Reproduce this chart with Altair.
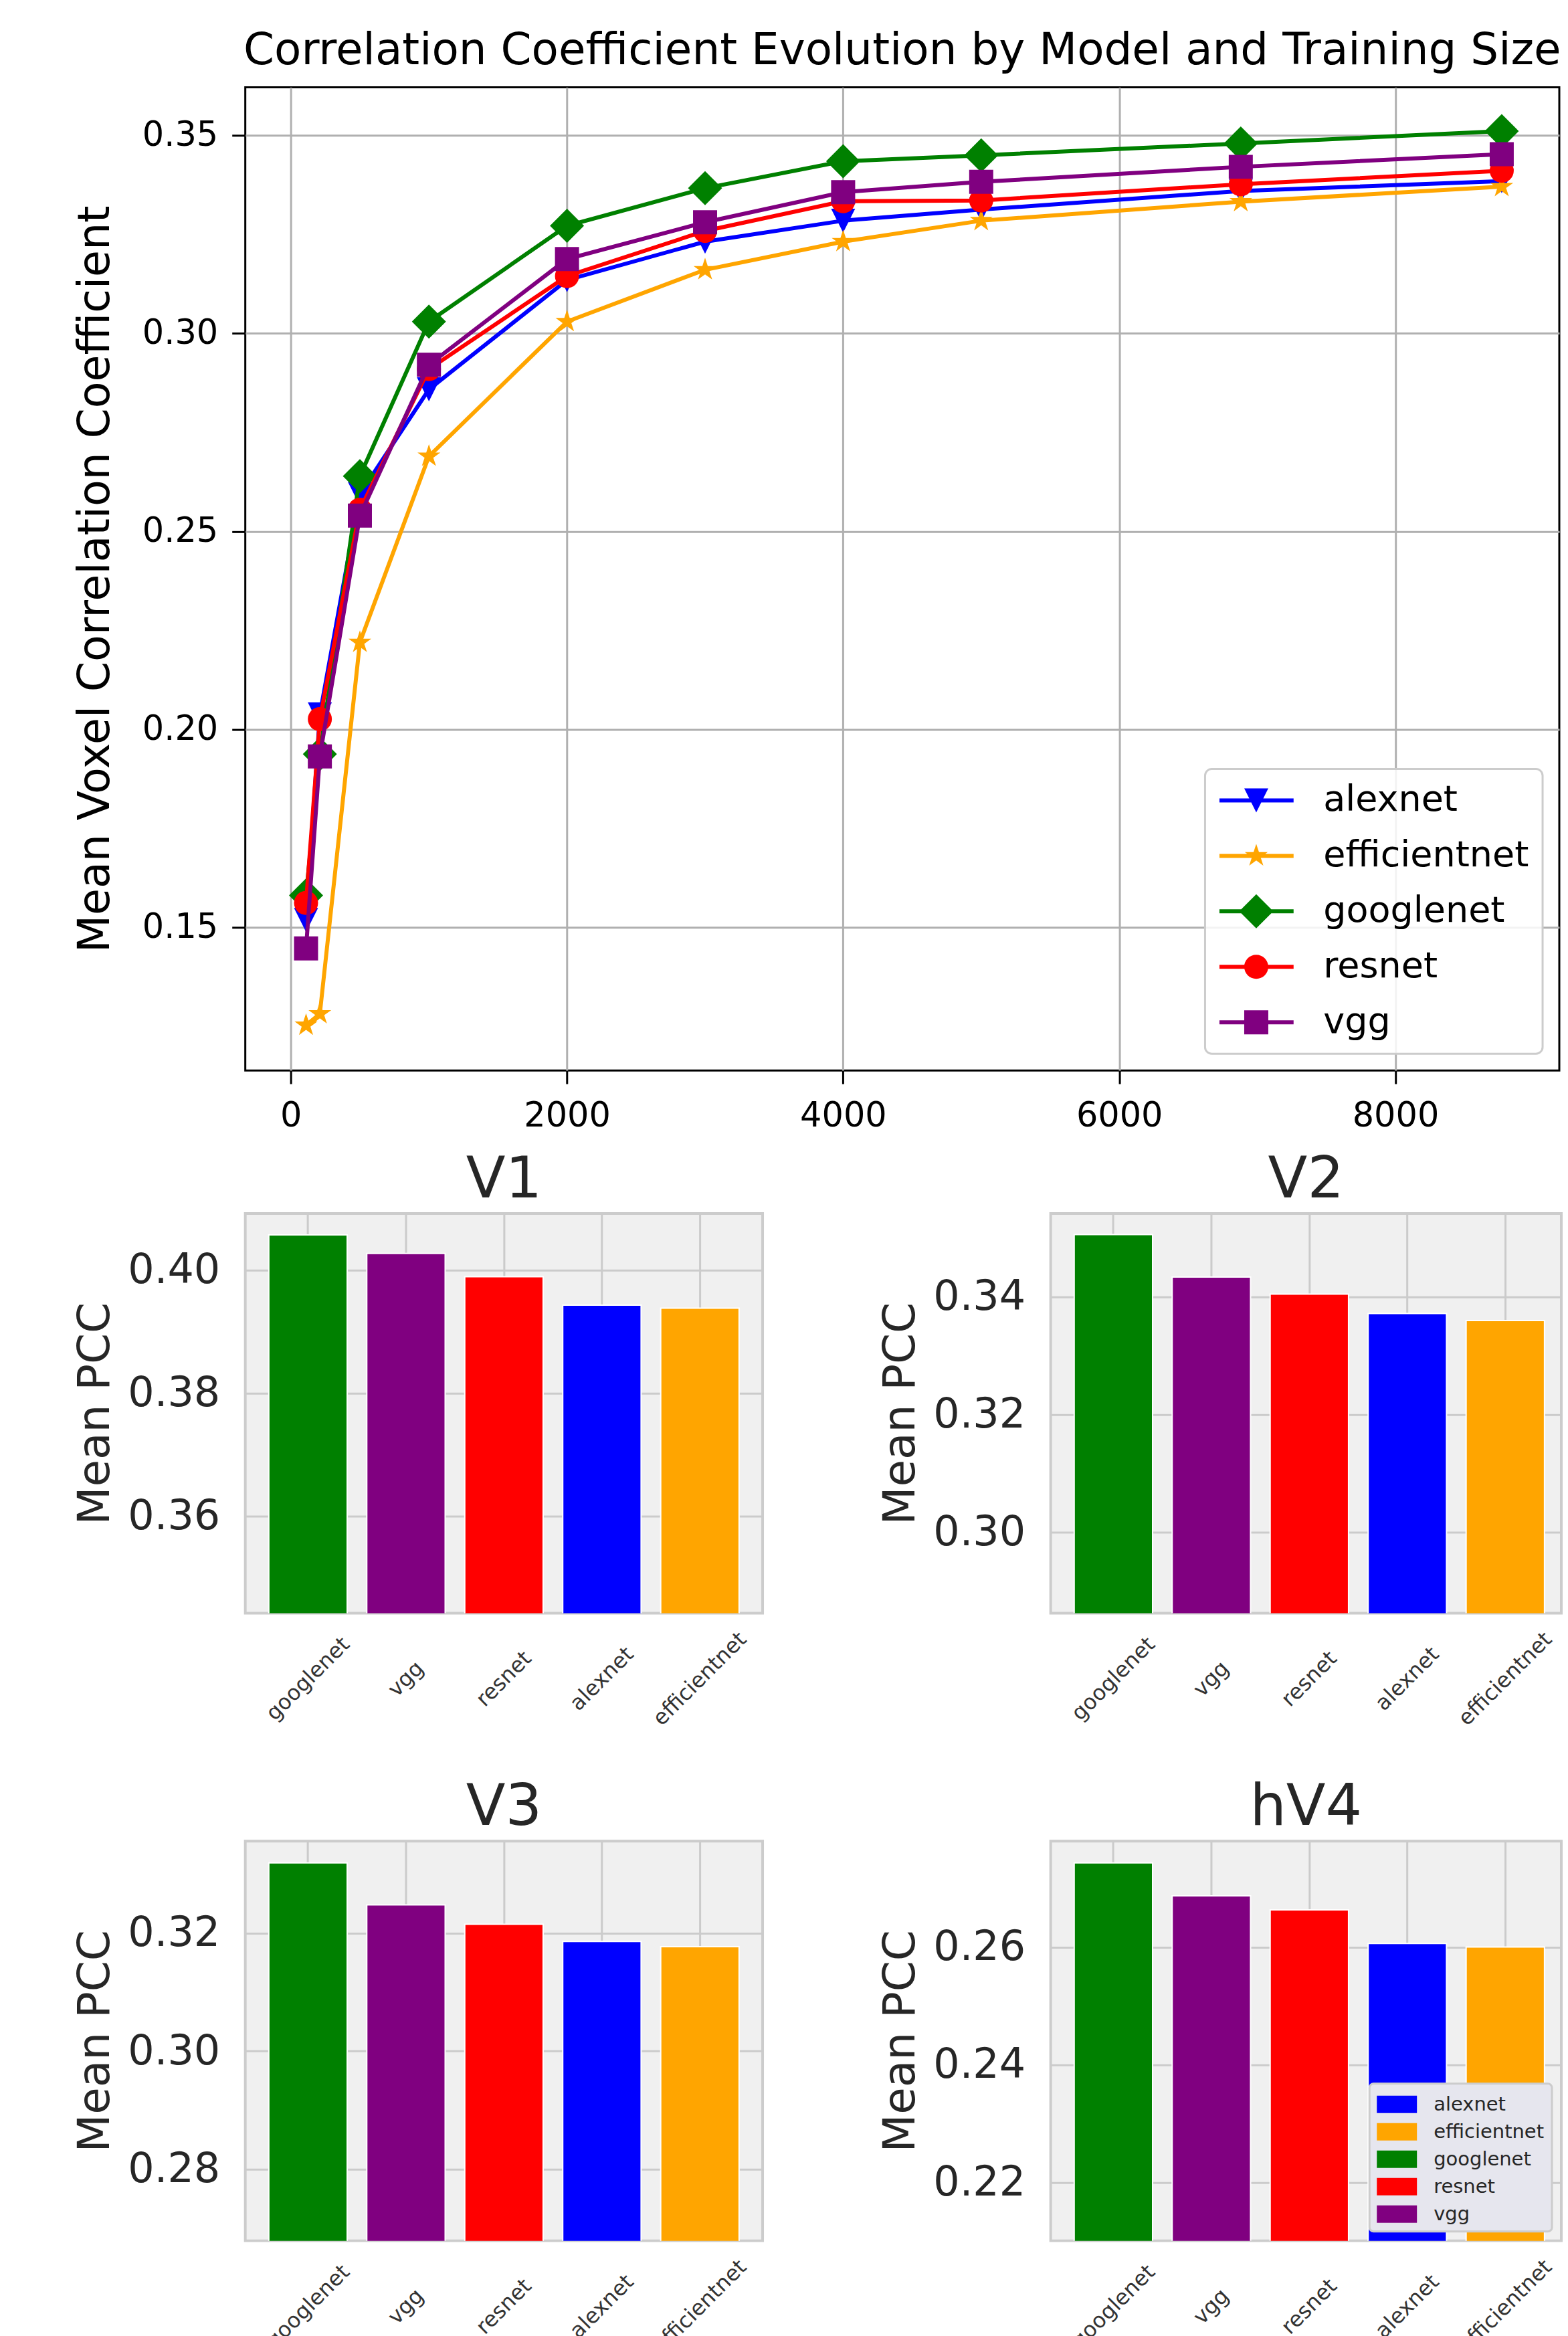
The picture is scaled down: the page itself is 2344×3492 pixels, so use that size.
import altair as alt
import pandas as pd
import re

# ---------------- data ----------------
models = ["alexnet", "efficientnet", "googlenet", "resnet", "vgg"]
colors = ["#0000ff", "#ffa500", "#008000", "#ff0000", "#800080"]

train_sizes = [110, 210, 500, 1000, 2000, 3000, 4000, 5000, 6880, 8770]
alexnet_pcc = [0.1519, 0.2038, 0.2595, 0.2859, 0.3135, 0.3232, 0.3285, 0.3313, 0.3360, 0.3385]
efficientnet_pcc = [0.1253, 0.1282, 0.2220, 0.2690, 0.3030, 0.3161, 0.3232, 0.3285, 0.3333, 0.3371]
googlenet_pcc = [0.1581, 0.1938, 0.2640, 0.3030, 0.3272, 0.3367, 0.3435, 0.3450, 0.3480, 0.3511]
resnet_pcc = [0.1562, 0.2026, 0.2555, 0.2910, 0.3145, 0.3259, 0.3334, 0.3336, 0.3377, 0.3411]
vgg_pcc = [0.1447, 0.1932, 0.2540, 0.2921, 0.3188, 0.3281, 0.3357, 0.3383, 0.3421, 0.3453]

x_ticks = [0, 2000, 4000, 6000, 8000]
y_ticks = [0.15, 0.20, 0.25, 0.30, 0.35]

bar_order = ["googlenet", "vgg", "resnet", "alexnet", "efficientnet"]
regions = ["V1", "V2", "V3", "hV4"]
v1_pcc = [0.4057, 0.4027, 0.3989, 0.3943, 0.3938]
v2_pcc = [0.3506, 0.3434, 0.3405, 0.3372, 0.3360]
v3_pcc = [0.3319, 0.3248, 0.3215, 0.3186, 0.3177]
hv4_pcc = [0.2743, 0.2687, 0.2663, 0.2606, 0.2600]
v1_ticks = [0.36, 0.38, 0.40]
v2_ticks = [0.30, 0.32, 0.34]
v3_ticks = [0.28, 0.30, 0.32]
hv4_ticks = [0.22, 0.24, 0.26]
v1_dom = [0.3442, 0.4092]
v2_dom = [0.2863, 0.3542]
v3_dom = [0.2679, 0.3356]
hv4_dom = [0.2101, 0.2780]

FONT = "DejaVu Sans"

# ---------------- marker shapes (unit: diamond half-diagonal) ----------------
marker_paths = {
    "alexnet": "M-0.706,-0.706L0.706,-0.706L0,0.706Z",
    "efficientnet": ("M0,-0.706L0.1587,-0.2184L0.6715,-0.2182L0.2568,0.0834L0.415,0.5712"
                     "L0,0.27L-0.415,0.5712L-0.2568,0.0834L-0.6715,-0.2182L-0.1587,-0.2184Z"),
    "googlenet": "M0,-1L1,0L0,1L-1,0Z",
    "resnet": "M0.706,0A0.706,0.706,0,1,1,-0.706,0A0.706,0.706,0,1,1,0.706,0Z",
    "vgg": "M-0.706,-0.706L0.706,-0.706L0.706,0.706L-0.706,0.706Z",
}


def shift_path(p, dx):
    # shift every x coordinate of a simple M/L/A path by dx
    out = []
    tokens = re.findall(r"[MLAZ]|-?\d*\.?\d+", p)
    state = {"cmd": None, "nums": []}

    def flush():
        cmd, nums = state["cmd"], state["nums"]
        if cmd in ("M", "L"):
            for i in range(0, len(nums), 2):
                out.append(f"{cmd}{nums[i] + dx:.4f},{nums[i + 1]:.4f}")
        elif cmd == "A":
            for i in range(0, len(nums), 7):
                a = nums[i:i + 7]
                out.append(f"A{a[0]},{a[1]},{int(a[2])},{int(a[3])},{int(a[4])},"
                           f"{a[5] + dx:.4f},{a[6]:.4f}")

    for t in tokens:
        if t in ("M", "L", "A", "Z"):
            flush()
            state["nums"] = []
            state["cmd"] = t
            if t == "Z":
                out.append("Z")
                state["cmd"] = None
        else:
            state["nums"].append(float(t))
    flush()
    return "".join(out)


LEG_DX = 1.16
line_path = "M-1,-0.118L3.35,-0.118L3.35,0.118L-1,0.118Z"
legend_paths = [line_path + shift_path(marker_paths[m], LEG_DX) for m in models]

series = {
    "alexnet": alexnet_pcc,
    "efficientnet": efficientnet_pcc,
    "googlenet": googlenet_pcc,
    "resnet": resnet_pcc,
    "vgg": vgg_pcc,
}
rows = []
for m in models:
    for s, v in zip(train_sizes, series[m]):
        rows.append({"model": m, "size": s, "pcc": v})
line_df = pd.DataFrame(rows)

# ---------------- top chart ----------------
X = alt.X("size:Q",
          scale=alt.Scale(domain=[-330, 9187], nice=False, zero=False),
          axis=alt.Axis(values=x_ticks, format="d", title=None, grid=True,
                        gridColor="#b0b0b0", gridWidth=3, domain=False,
                        ticks=True, tickSize=20, tickWidth=3, tickColor="#000000",
                        labelFontSize=51, labelColor="#000000", labelFont=FONT,
                        labelPadding=23, labelFlush=False))
Y = alt.Y("pcc:Q",
          scale=alt.Scale(domain=[0.1139, 0.3622], nice=False, zero=False),
          axis=alt.Axis(values=y_ticks, format=".2f", title="Mean Voxel Correlation Coefficient",
                        grid=True, gridColor="#b0b0b0", gridWidth=3, domain=False,
                        ticks=True, tickSize=20, tickWidth=3, tickColor="#000000",
                        labelFontSize=51, labelColor="#000000", labelFont=FONT,
                        labelPadding=21, minExtent=155, maxExtent=155,
                        titleFontSize=65, titleFont=FONT, titleFontWeight="normal",
                        titleColor="#000000", titlePadding=35))

layers = []
for m, col in zip(models, colors):
    base = alt.Chart(line_df).transform_filter(alt.datum.model == m)
    layers.append(base.mark_line(color=col, strokeWidth=6, clip=True).encode(x=X, y=Y))
    layers.append(base.mark_point(filled=True, shape=marker_paths[m], size=2601, color=col,
                                  opacity=1, strokeWidth=0, clip=True).encode(x=X, y=Y))

top_legend = alt.Legend(title=None, orient="bottom-right", offset=25, padding=20,
                        symbolSize=2601, symbolStrokeWidth=0, symbolOpacity=1,
                        labelFontSize=54, labelFont=FONT, labelColor="#000000",
                        labelLimit=0, labelOffset=103, rowPadding=29,
                        fillColor="rgba(255,255,255,0.85)", strokeColor="#cccccc",
                        cornerRadius=10)
legend_layer = alt.Chart(line_df).transform_filter("false").mark_point(filled=True).encode(
    x=X, y=Y,
    color=alt.Color("model:N", scale=alt.Scale(domain=models, range=colors), legend=top_legend),
    shape=alt.Shape("model:N", scale=alt.Scale(domain=models, range=legend_paths), legend=top_legend),
)
layers.append(legend_layer)

top = alt.layer(*layers).properties(
    width=1966, height=1471,
    title=alt.TitleParams("Correlation Coefficient Evolution by Model and Training Size",
                          fontSize=66, font=FONT, fontWeight="normal", color="#000000",
                          baseline="alphabetic", offset=-32, anchor="middle"),
    view=alt.ViewBackground(stroke="#000000", strokeWidth=3, fill="#ffffff"),
)

# ---------------- bar panels ----------------
# legend patch: 60 x 26 px rectangle (unit = 20 px), shifted right of the nominal symbol box
rect_path = "M-1,-0.65L2,-0.65L2,0.65L-1,0.65Z"


def bar_panel(name, vals, ticks, dom, width, pad_outer, align, show_legend):
    df = pd.DataFrame({"model": bar_order, "pcc": vals})
    leg = None
    if show_legend:
        leg = alt.Legend(title=None, orient="bottom-right", offset=14, padding=11,
                         symbolType=rect_path, symbolSize=1600, symbolStrokeWidth=0,
                         labelFontSize=29, labelFont=FONT, labelColor="#262626",
                         labelLimit=0, labelOffset=45, rowPadding=6,
                         fillColor="#e6e6ee", strokeColor="#cccccc", cornerRadius=6)
    return alt.Chart(df).mark_bar(stroke="#ffffff", strokeWidth=2, clip=True).encode(
        x=alt.X("model:N", sort=bar_order,
                scale=alt.Scale(paddingInner=0.2, paddingOuter=pad_outer, align=align),
                axis=alt.Axis(title=None, labelAngle=-45, labelAlign="center",
                              labelBaseline="middle", labelFontSize=32, labelFont=FONT,
                              labelColor="#333333", labelPadding=98, labelLimit=0,
                              ticks=False, tickSize=0,
                              domain=False, grid=True, gridColor="#cbcbcb", gridWidth=3,
                              bandPosition=0.5)),
        y=alt.Y("pcc:Q", scale=alt.Scale(domain=dom, nice=False, zero=False),
                axis=alt.Axis(values=ticks, format=".2f", title="Mean PCC",
                              labelFontSize=62, labelFont=FONT, labelColor="#262626",
                              labelPadding=38, ticks=False, tickSize=0, domain=False,
                              grid=True, gridColor="#cbcbcb", gridWidth=3,
                              minExtent=178, maxExtent=178,
                              titleFontSize=66, titleFont=FONT, titleFontWeight="normal",
                              titleColor="#262626", titlePadding=12)),
        color=alt.Color("model:N", scale=alt.Scale(domain=models, range=colors), legend=leg),
    ).properties(
        width=width, height=598,
        title=alt.TitleParams(name, fontSize=86, font=FONT, fontWeight="normal",
                              color="#262626", baseline="alphabetic", offset=-62,
                              anchor="middle"),
        view=alt.ViewBackground(stroke="#cccccc", strokeWidth=4, fill="#f0f0f0"),
    )


p1 = bar_panel(regions[0], v1_pcc, v1_ticks, v1_dom, 774, 0.24, 0.5, False)
p2 = bar_panel(regions[1], v2_pcc, v2_ticks, v2_dom, 764, 0.2058, 0.583, False)
p3 = bar_panel(regions[2], v3_pcc, v3_ticks, v3_dom, 774, 0.24, 0.5, False)
p4 = bar_panel(regions[3], hv4_pcc, hv4_ticks, hv4_dom, 764, 0.2058, 0.583, True)

row1 = alt.hconcat(p1, p2, spacing=170).resolve_scale(color="independent")
row2 = alt.hconcat(p3, p4, spacing=170).resolve_scale(color="independent")
bottom = alt.vconcat(row1, row2, spacing=70)

chart = alt.vconcat(top, bottom, spacing=24).resolve_scale(
    color="independent", shape="independent", x="independent", y="independent"
).properties(
    padding={"left": 100, "top": 32, "right": 0, "bottom": -34},
    background="#ffffff",
).configure(font=FONT).configure_legend(strokeWidth=3)

chart.save("out.html", embed_options={"renderer": "svg", "actions": False})
